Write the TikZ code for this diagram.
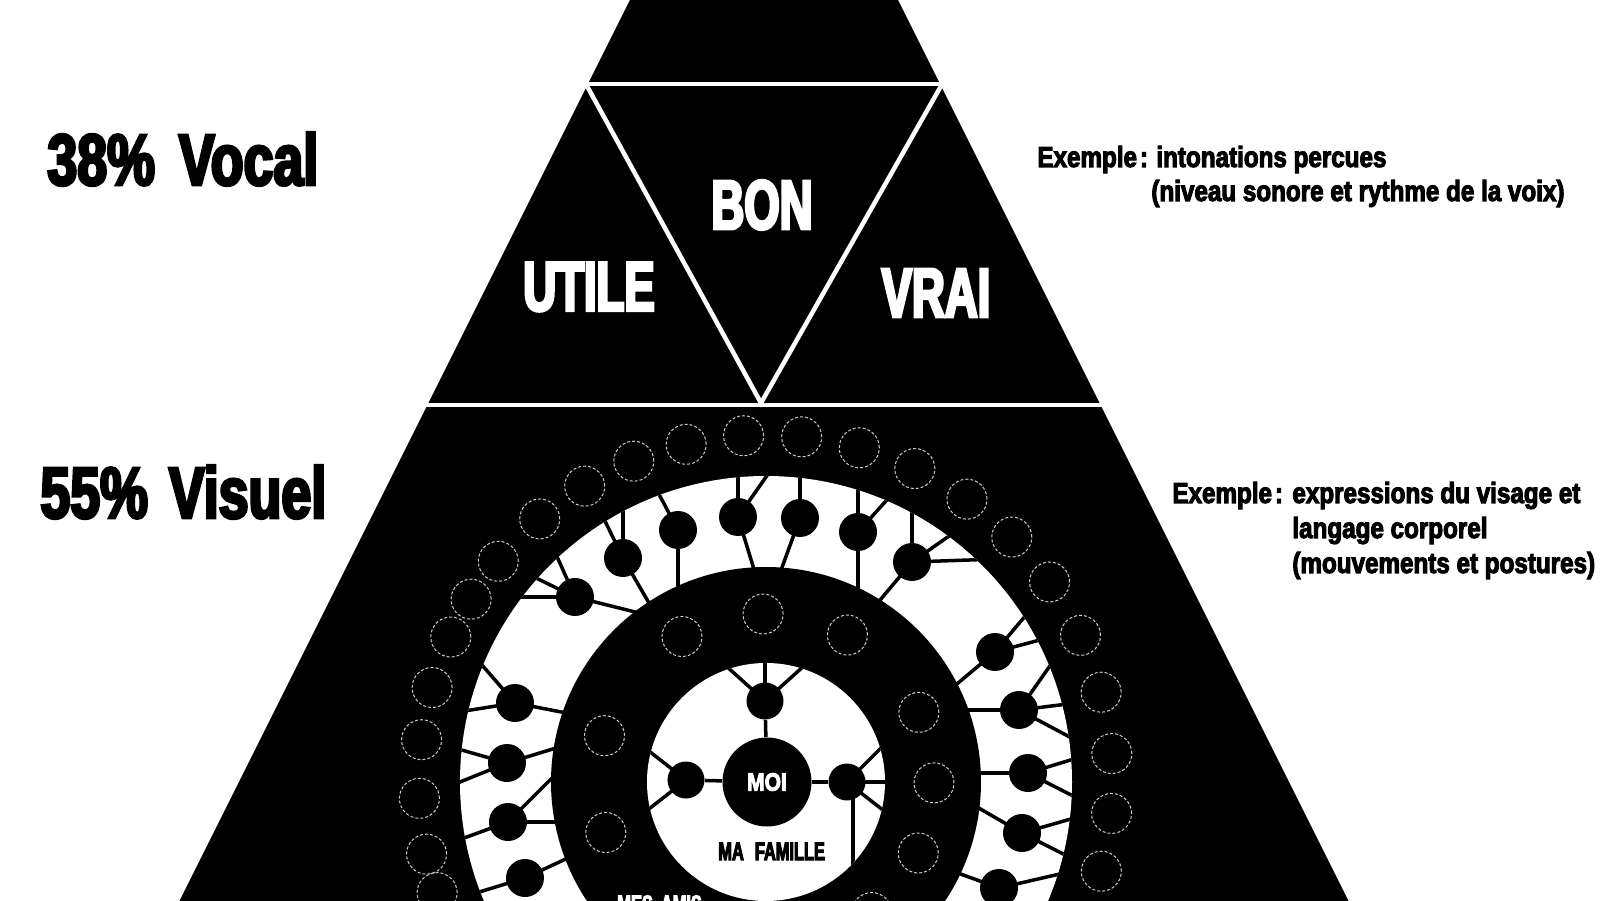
\documentclass[tikz,border=0pt]{standalone}
\usepackage{fontspec}
\newfontfamily\impN{Liberation Sans}[FakeStretch=0.65,FakeBold=4]
\newfontfamily\impW{Liberation Sans}[FakeStretch=0.74,FakeBold=4]
\newfontfamily\impR{Liberation Sans}[FakeStretch=0.835,FakeBold=3.5]
\begin{document}
\begin{tikzpicture}[x=0.5pt,y=0.5pt]
\tikzset{
  wline/.style={white, line width=2pt},
  vline/.style={white, line width=2.25pt, line join=miter},
  conn/.style={black, line width=1.75pt},
  rnode/.style={circle, fill=black, inner sep=0pt, minimum size=19pt},
  fnode/.style={circle, fill=black, inner sep=0pt, minimum size=18.5pt},
  moinode/.style={circle, fill=black, inner sep=0pt, minimum size=44.5pt, text=white,
     font=\impR\bfseries\fontsize{12.6pt}{14pt}\selectfont},
  dcirc/.style={circle, draw=white!80!black, line width=0.5pt, dash pattern=on 1.5pt off 1pt,
     inner sep=0pt, minimum size=20pt},
  biglbl/.style={anchor=base west, inner sep=0pt, text=black,
     font=\impW\bfseries\fontsize{36.3pt}{40pt}\selectfont},
  midlbl/.style={anchor=center, inner sep=0pt, text=white,
     font=\impN\bfseries\fontsize{35pt}{38pt}\selectfont},
  rtxt/.style={anchor=base west, inner sep=0pt, text=black,
     font=\impR\bfseries\fontsize{14.5pt}{17pt}\selectfont},
  smlbl/.style={anchor=base west, inner sep=0pt,
     font=\impN\bfseries\fontsize{12.6pt}{14pt}\selectfont}
}
\useasboundingbox (-766,-118) rectangle (834,782);
\clip (-766,-118) rectangle (834,782);
\fill[white] (-766,-118) rectangle (834,782);
% pyramid
\fill[black] (-131,792) -- (127,792) -- (587,-128) -- (-591,-128) -- cycle;
\draw[wline] (-300,698) -- (300,698);
\draw[wline] (-450,377) -- (450,377);
\draw[vline] (-179,696) -- (-5,379) -- (175,696);
% outer dashed circles
\foreach \a [count=\i] in {-14.9,-5.2,4.7,15,25,35.2,44.9,54.6,64.6,74.4,84.1,93.7,103.3,112.4,121.5,130.7,140.5,148.2,155.3,164.2,173,182.7,192,198.6}
  \node[dcirc] (o\i) at (\a:347) {};
% white ring
\fill[white] (0,0) circle (306);
\begin{scope}
\clip (0,0) circle (306);
\foreach \n/\x/\y/\dirs in {
  1/-28/265/{-73,90,55},
  2/34/264/{-110,90},
  3/-88/252/{-90,118},
  4/92/250/{-90,90,48},
  5/-143/224/{-60,90,116},
  6/146/220/{-130,90,35,2},
  7/-191/185/{-14,180,154,114},
  8/229/130/{-140,50,15},
  9/253/72/{180,55,7,-28},
  10/262/9/{180,17,-27},
  11/256/-51/{150,16,-27},
  12/233/-106/{160,13},
  13/-251/79/{-11,131,189},
  14/-259/19/{17,164,202},
  15/-258/-40/{45,0,200},
  16/-241/-96/{25,197}}
{
  \coordinate (c\n) at (\x,\y);
  \foreach \d in \dirs {\draw[conn] (c\n) -- ++(\d:120);}
}
\end{scope}
% black ring
\fill[black] (0,0) circle (215);
\foreach \a [count=\i] in {91,120,61,164,24.5,197.5,-0.3,-25,-51}
  \node[dcirc] (m\i) at (\a:168) {};
% inner white disk
\fill[white] (0,0) circle (119);
\coordinate (ft) at (-1,81);
\coordinate (fl) at (-80,2);
\coordinate (fr) at (81,0);
\coordinate (mo) at (1,0);
\begin{scope}
\clip (0,0) circle (119);
\draw[conn] (ft) -- ++(90:80);
\draw[conn] (ft) -- ++(138:80);
\draw[conn] (ft) -- ++(42:80);
\draw[conn] (fl) -- ++(142:80);
\draw[conn] (fl) -- ++(218:80);
\draw[conn] (fr) -- ++(45:80);
\draw[conn] (fr) -- ++(0:80);
\draw[conn] (fr) -- ++(-38:80);
\draw[conn] ([xshift=3pt]fr) -- ++(0,-130);
\end{scope}
\node[moinode] (moi) at (mo) {MOI};
\node[fnode] (f1) at (ft) {};
\node[fnode] (f2) at (fl) {};
\node[fnode] (f3) at (fr) {};
\draw[conn] (moi) -- (f1);
\draw[conn] (moi) -- (f2);
\draw[conn] (moi) -- (f3);
\foreach \n in {1,...,16} \node[rnode] (r\n) at (c\n) {};
% ring texts
\node[smlbl, text=black] (famille) at (-48,-78) {MA\hspace{5.5pt}FAMILLE};
\node[smlbl, text=white] (amis) at (-149,-131) {MES\hspace{4pt}AMIS};
% middle band labels
\node[midlbl] (bon) at (-4,577) {BON};
\node[midlbl] (utile) at (-177,495) {UTILE};
\node[midlbl] (vrai) at (170,489) {VRAI};
% left labels
\node[biglbl] (vocal) at (-719,597) {38\%\hspace{12pt}Vocal};
\node[biglbl] (visuel) at (-726,264) {55\%\hspace{10.5pt}Visuel};
% right texts
\node[rtxt] (ex1) at (271,615) {Exemple\hspace{1.5pt}:};
\node[rtxt] (ex1a) at (390,615) {intonations percues};
\node[rtxt] (ex1b) at (385,581) {(niveau sonore et rythme de la voix)};
\node[rtxt] (ex2) at (406,279) {Exemple\hspace{1.5pt}:};
\node[rtxt] (ex2a) at (526,279) {expressions du visage et};
\node[rtxt] (ex2b) at (526,244) {langage corporel};
\node[rtxt] (ex2c) at (526,209) {(mouvements et postures)};
\end{tikzpicture}
\end{document}
